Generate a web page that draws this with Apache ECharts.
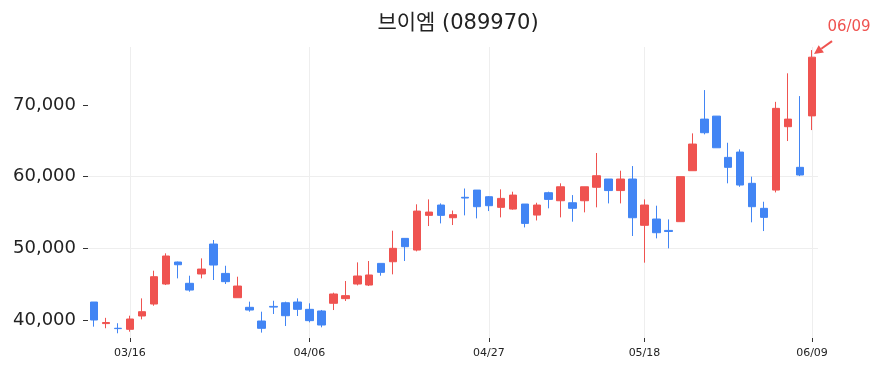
<!DOCTYPE html>
<html><head><meta charset="utf-8">
<script src="https://cdn.jsdelivr.net/npm/echarts@6/dist/echarts.min.js"></script>
<style>html,body{margin:0;padding:0;background:#fff}#c{width:884px;height:373px}</style>
</head><body><div id="c"></div>
<script>
const titleText = '브이엠 (089970)';
const dates = ['03/11','03/12','03/13','03/16','03/17','03/18','03/19','03/20','03/23','03/24',
  '03/25','03/26','03/27','03/30','03/31','04/01','04/02','04/03','04/06','04/07',
  '04/08','04/09','04/10','04/13','04/14','04/15','04/16','04/17','04/20','04/21',
  '04/22','04/23','04/24','04/27','04/28','04/29','04/30','05/04','05/06','05/07',
  '05/08','05/11','05/12','05/13','05/14','05/15','05/18','05/19','05/20','05/21',
  '05/22','05/26','05/27','05/28','05/29','06/01','06/02','06/04','06/05','06/08','06/09'];
const opens = [42510,39500,38850,38700,40560,42230,45020,48090,45120,46420,
  50600,46500,43110,41770,39860,41900,42410,42510,41490,41260,
  42330,42980,45020,44880,47900,48130,51390,49760,54600,56040,
  54270,57120,58130,57200,55720,55480,56180,54640,57760,56640,
  56360,56640,58520,59670,58060,59670,53210,54090,52500,53720,
  60830,68030,68450,62690,63430,59070,55580,58130,66970,61300,68480];
const closes = [40000,39650,38800,40140,41160,46040,48930,47710,44180,47110,
  47670,45350,44740,41390,38840,41800,40600,41490,39910,39300,
  43630,43400,46140,46280,46650,50000,50230,55200,55060,54600,
  54700,57020,55810,55950,56970,57430,53480,56040,56830,58590,
  55580,58590,60130,58060,59670,54270,56040,52180,52350,60000,
  64550,66130,64030,61300,58830,55810,54320,69530,68030,60230,76670];
const lows = [39070,38850,38150,38370,40090,41990,44880,45810,43950,45810,
  45580,45020,43110,41160,38240,40840,39160,40560,39670,38980,
  41390,42650,44830,44740,46180,46370,48230,49580,53110,53480,
  53250,54600,54180,55200,54320,55390,52920,53890,55580,54320,
  53720,55020,55720,56270,56270,51720,48000,51390,50000,53720,
  60830,65900,64030,59070,58590,53630,52410,57800,64970,60080,66500];
const highs = [42510,40300,39550,40600,43020,46880,49300,48150,46180,48600,
  51160,47570,46040,42560,41160,42690,42560,43020,42330,41400,
  43810,45440,48040,48230,47900,52460,51390,56140,56830,56270,
  55270,58350,58130,57300,58230,57900,56180,56360,57900,59070,
  57430,58590,63300,59670,60830,61480,56830,55950,54040,60000,
  66040,72080,68450,64730,63810,60000,56500,70440,74420,71240,77660];
const tickLabels = ['03/16','04/06','04/27','05/18','06/09'];
const yTicks = [40000,50000,60000,70000];
const yMin = 37490, yMax = 78090;
const annotationLabel = '06/09';

const UP = '#ef5350', DOWN = '#4285f4';
const candles = dates.map((d, i) => [opens[i], closes[i], lows[i], highs[i]]);
const showTick = (idx, val) => tickLabels.indexOf(val) >= 0;

const chart = echarts.init(document.getElementById('c'), null, {renderer: 'canvas'});
chart.setOption({
  animation: false,
  backgroundColor: '#fff',
  title: {
    text: titleText, left: 453, top: 8, textAlign: 'center',
    textStyle: {fontFamily: 'DejaVu Sans, Noto Sans CJK KR', fontSize: 21, fontWeight: 'normal', color: '#222'}
  },
  grid: {left: 88, right: 66, top: 47, bottom: 35},
  xAxis: {
    type: 'category', data: dates, boundaryGap: true,
    axisLine: {show: false},
    axisTick: {show: true, interval: showTick, alignWithLabel: true, length: 4, lineStyle: {color: '#333'}},
    axisLabel: {interval: showTick, margin: 10, fontSize: 11, fontFamily: 'DejaVu Sans', color: '#222'},
    splitLine: {show: true, interval: showTick, alignWithLabel: true, lineStyle: {color: '#eeeeee'}}
  },
  yAxis: {
    type: 'value', min: yMin, max: yMax, scale: true,
    axisLine: {show: false},
    axisTick: {show: true, customValues: yTicks, length: 5, lineStyle: {color: '#333'}},
    axisLabel: {customValues: yTicks, margin: 12, fontSize: 18, fontFamily: 'DejaVu Sans', color: '#222',
      formatter: v => v.toLocaleString('en-US')},
    splitLine: {show: true, showMinLine: false, showMaxLine: false, lineStyle: {color: '#eeeeee'}}
  },
  series: [{
    type: 'candlestick', data: candles, barWidth: 8,
    itemStyle: {color: UP, color0: DOWN, borderColor: UP, borderColor0: DOWN, borderWidth: 1}
  }]
});

const last = dates.length - 1;
const p = chart.convertToPixel({xAxisIndex: 0, yAxisIndex: 0}, [last, highs[last]]);
const tip = [p[0] + 2, p[1] + 4];
const tail = [p[0] + 20, p[1] - 9];
const ang = Math.atan2(tip[1] - tail[1], tip[0] - tail[0]);
const hl = 9, hw = 4.5;
const base = [tip[0] - hl * Math.cos(ang), tip[1] - hl * Math.sin(ang)];
const head = [tip,
  [base[0] + hw * Math.sin(ang), base[1] - hw * Math.cos(ang)],
  [base[0] - hw * Math.sin(ang), base[1] + hw * Math.cos(ang)]];
chart.setOption({
  graphic: [
    {type: 'line', shape: {x1: tail[0], y1: tail[1], x2: base[0], y2: base[1]}, style: {stroke: UP, lineWidth: 2}},
    {type: 'polygon', shape: {points: head}, style: {fill: UP}},
    {type: 'text', x: p[0] + 37, y: p[1] - 23, style: {text: annotationLabel, fill: UP, fontSize: 15,
      fontFamily: 'DejaVu Sans', align: 'center', verticalAlign: 'middle'}}
  ]
});
</script></body></html>
